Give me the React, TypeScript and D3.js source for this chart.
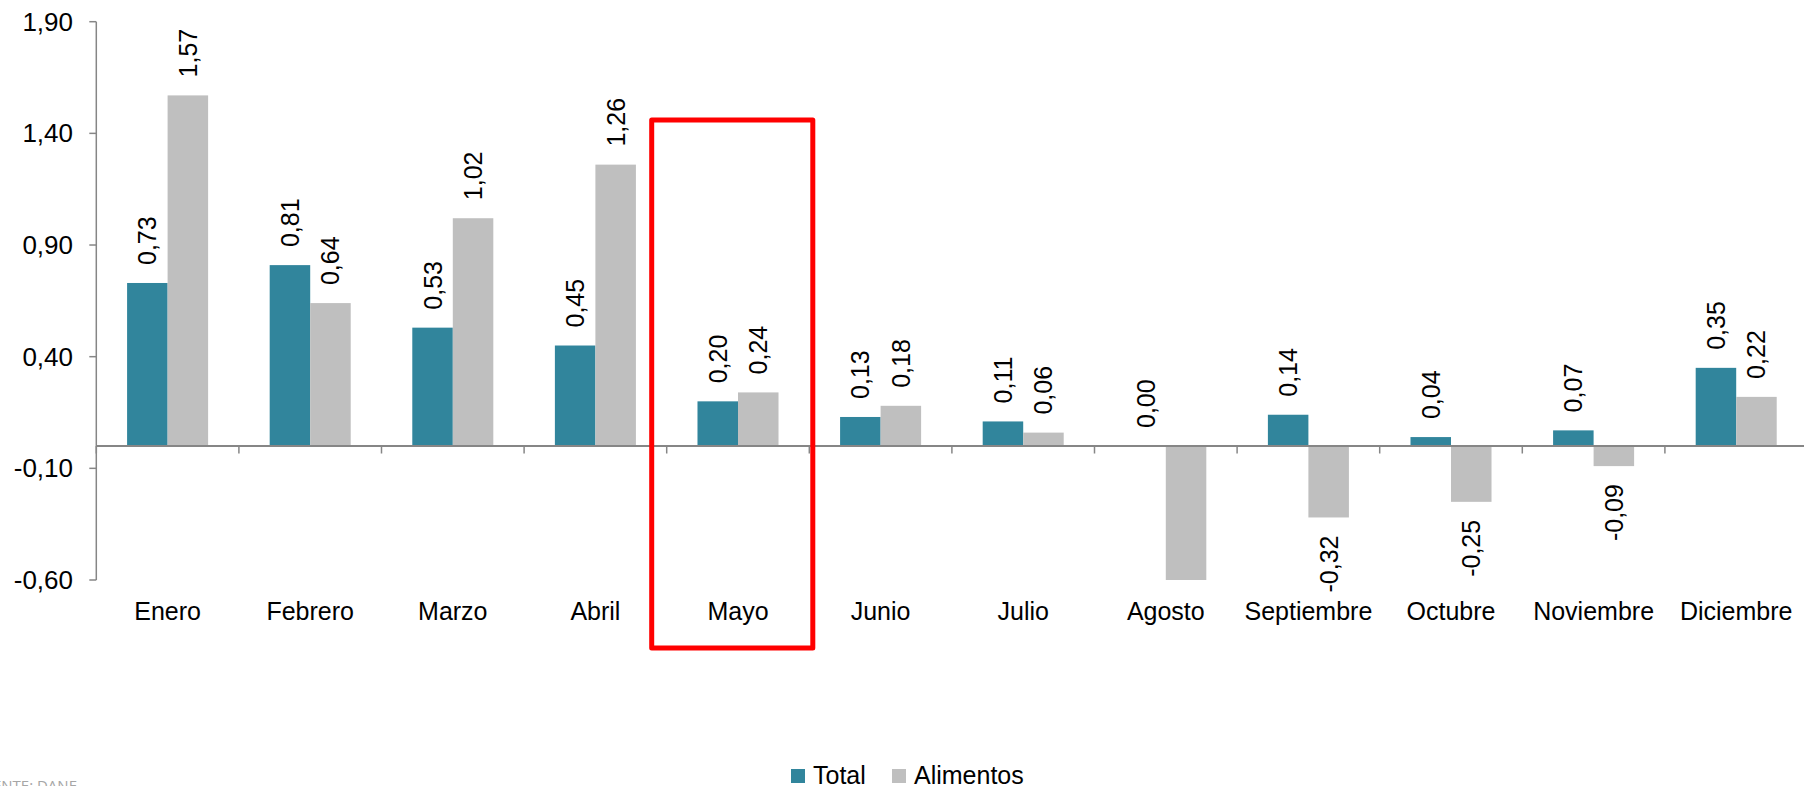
import React from "react";
import * as d3 from "d3";

const categories = [
  "Enero", "Febrero", "Marzo", "Abril", "Mayo", "Junio",
  "Julio", "Agosto", "Septiembre", "Octubre", "Noviembre", "Diciembre",
];
const totalValues = [0.73, 0.81, 0.53, 0.45, 0.2, 0.13, 0.11, 0.0, 0.14, 0.04, 0.07, 0.35];
const alimentosValues = [1.57, 0.64, 1.02, 1.26, 0.24, 0.18, 0.06, -0.6, -0.32, -0.25, -0.09, 0.22];
const yTicks = [-0.6, -0.1, 0.4, 0.9, 1.4, 1.9];
const seriesNames = ["Total", "Alimentos"];
const seriesColors = ["#31859C", "#BFBFBF"];
const highlighted = "Mayo";
const sourceNote = "FUENTE: DANE";

const W = 1804;
const H = 786;
const FONT = "'Liberation Sans', Arial, Helvetica, sans-serif";
const AXIS = "#868686";

const fmt = (v: number) => d3.format(".2f")(v).replace(".", ",").replace("\u2212", "-");

export default function App() {
  const y = d3.scaleLinear().domain([-0.6, 1.9]).range([580, 21.7]);
  const x = d3.scaleBand<string>().domain(categories).range([96.3, 96.3 + 12 * 142.6]).padding(0);
  const bw = x.bandwidth();
  const xs = d3.scaleBand<string>().domain(seriesNames).range([0, bw]).paddingInner(0).paddingOuter(0.76);
  const barW = xs.bandwidth();
  const y0 = y(0);
  const yMin = y.domain()[0];

  const series = [totalValues, alimentosValues];

  const hx = x(highlighted)!;

  return (
    <svg
      width={W}
      height={H}
      style={{ position: "absolute", left: 0, top: 0, background: "#fff" }}
      fontFamily={FONT}
    >
      <rect x={0} y={0} width={W} height={H} fill="#fff" />
      {/* bars */}
      {series.map((vals, si) =>
        vals.map((v, i) => {
          const bx = x(categories[i])! + xs(seriesNames[si])!;
          const top = y(Math.max(0, v));
          const bot = y(Math.min(0, v));
          return (
            <rect
              key={`b${si}-${i}`}
              x={bx}
              y={top}
              width={barW}
              height={Math.max(0, bot - top)}
              fill={seriesColors[si]}
            />
          );
        })
      )}
      {/* y axis */}
      <line x1={x.range()[0]} x2={x.range()[0]} y1={y(1.9)} y2={y(-0.6)} stroke={AXIS} strokeWidth={1.5} />
      {yTicks.map((t) => (
        <g key={`yt${t}`}>
          <line x1={x.range()[0] - 7} x2={x.range()[0]} y1={y(t)} y2={y(t)} stroke={AXIS} strokeWidth={1.5} />
          <text
            x={73}
            y={y(t)}
            textAnchor="end"
            dominantBaseline="central"
            fontSize={26}
            fill="#000"
          >
            {fmt(t)}
          </text>
        </g>
      ))}
      {/* zero axis */}
      <line x1={x.range()[0]} x2={W} y1={y0} y2={y0} stroke={AXIS} strokeWidth={2} />
      {categories.map((c) => (
        <line
          key={`xt${c}`}
          x1={x(c)!}
          x2={x(c)!}
          y1={y0}
          y2={y0 + 7.5}
          stroke={AXIS}
          strokeWidth={1.5}
        />
      ))}
      {categories.map((c) => (
        <text
          key={`xl${c}`}
          x={x(c)! + bw / 2}
          y={620}
          textAnchor="middle"
          fontSize={25}
          fill="#000"
        >
          {c}
        </text>
      ))}
      {/* data labels */}
      {series.map((vals, si) =>
        vals.map((v, i) => {
          if (v <= yMin) return null;
          const cx = x(categories[i])! + xs(seriesNames[si])! + barW / 2;
          const pos = v >= 0;
          const ly = pos ? y(v) - 18 : y(v) + 18;
          return (
            <text
              key={`l${si}-${i}`}
              transform={`translate(${cx},${ly}) rotate(-90)`}
              textAnchor={pos ? "start" : "end"}
              dominantBaseline="central"
              fontSize={25}
              fill="#000"
            >
              {fmt(v)}
            </text>
          );
        })
      )}
      {/* highlight box */}
      <rect
        x={hx - 15}
        y={120}
        width={bw + 18.5}
        height={528}
        fill="none"
        stroke="#FF0000"
        strokeWidth={5}
        strokeLinejoin="round"
      />
      {/* legend */}
      {seriesNames.map((s, si) => {
        const lx = [791, 892][si];
        return (
          <g key={`lg${s}`}>
            <rect x={lx} y={769} width={14} height={14} fill={seriesColors[si]} />
            <text x={lx + 22} y={783.5} fontSize={25} fill="#000">
              {s}
            </text>
          </g>
        );
      })}
      {/* source note, cropped at the left edge */}
      <text x={77} y={791} textAnchor="end" fontSize={15} fill="#A6A6A6" fontFamily="'Open Sans', 'DejaVu Sans', sans-serif">
        {sourceNote}
      </text>
    </svg>
  );
}
